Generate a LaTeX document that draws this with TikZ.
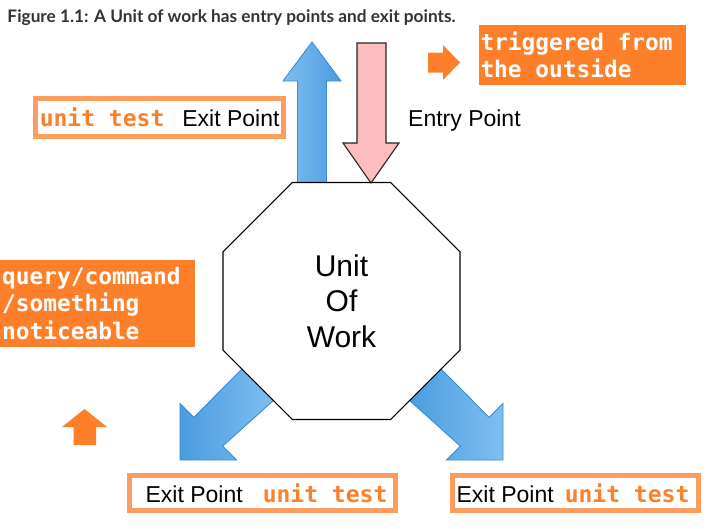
\documentclass[tikz,border=0pt]{standalone}
\usepackage{fontspec}
\setmainfont{Liberation Sans}
\newfontfamily\titlefont{Lato}
\newfontfamily\codefont{DejaVu Sans Mono}[WordSpace={1,0,0}]
\usetikzlibrary{shapes.geometric}

\definecolor{hiorange}{HTML}{FD7F29}
\definecolor{hiframe}{HTML}{FD9D5E}
\definecolor{exitline}{HTML}{3A8DD5}
\definecolor{exitlight}{HTML}{80BFF0}
\definecolor{exitdark}{HTML}{4A9BE0}
\definecolor{entrypink}{HTML}{FBBDBD}
\definecolor{captiongray}{HTML}{333333}

\newcommand{\codeword}[1]{{\codefont\bfseries\color{hiorange}#1}}

\begin{document}
\begin{tikzpicture}[
  x=1pt, y=-1pt,
  exitarrow/.style={draw=exitline, line width=0.9pt, line join=miter},
  entryarrow/.style={draw=black!85, fill=entrypink, line width=1.1pt, line join=miter},
  hintarrow/.style={fill=hiorange},
  hintbox/.style={fill=hiorange, text=white, anchor=north west, align=left,
                  inner xsep=2pt, inner ysep=0pt,
                  font=\codefont\bfseries\fontsize{22.8}{27.5}\selectfont},
  labelbox/.style={draw=hiframe, line width=5pt, inner sep=0pt, minimum height=35.6pt,
                   font=\fontsize{23}{27}\selectfont}
]
\fill[white] (0,0) rectangle (710,528);
\useasboundingbox (0,0) rectangle (710,528);

% caption
\node[anchor=base west, inner sep=0pt, text=captiongray,
      font=\titlefont\bfseries\fontsize{17.25}{20}\selectfont] (caption) at (7.3,22.7)
  {Figure 1.1: A Unit of work has entry points and exit points.};

% exit arrows (behind the unit)
\path[exitarrow, left color=exitlight, right color=exitdark]
  (297.5,186) -- (297.5,81) -- (283,81) -- (312,42) -- (341,81) -- (326.5,81) -- (326.5,186) -- cycle;
\path[exitarrow, left color=exitdark, right color=exitlight]
  (275,399) -- (222.7,446.1) -- (236.6,460) -- (180,460) -- (180,403.4) -- (193.9,417.3) -- (246,365) -- cycle;
\path[exitarrow, left color=exitdark, right color=exitlight]
  (437,365) -- (489.1,417.3) -- (503,403.4) -- (503,460) -- (446.4,460) -- (460.3,446.1) -- (408,399) -- cycle;

% the unit of work
\node[regular polygon, regular polygon sides=8, minimum size=256.5pt, inner sep=0pt,
      draw, line width=1.1pt, fill=white, align=center,
      font=\fontsize{30}{35.3}\selectfont] (unit) at (341.5,301) {Unit\\Of\\Work};

% entry arrow
\path[entryarrow]
  (357,43) -- (386,43) -- (386,143) -- (399,143) -- (371,183) -- (343,143) -- (357,143) -- cycle;
\node[anchor=base west, inner sep=0pt, font=\fontsize{23}{27}\selectfont] (entry) at (408,126.7) {Entry Point};

% hints
\node[hintbox, text width=203.7pt, minimum height=59.3pt] (outside) at (478.3,25)
  {\spaceskip=0pt triggered from\\the outside};
\path[hintarrow] (428,52.5) -- (443,52.5) -- (443,45) -- (460,62.5) -- (443,80) -- (443,72.5) -- (428,72.5) -- cycle;

\node[hintbox, text width=191pt, minimum height=87.4pt] (noticeable) at (0,259.3)
  {query/command\\/something\\noticeable};
\path[hintarrow] (73.5,445) -- (73.5,427) -- (62,427) -- (84.5,409) -- (107,427) -- (96,427) -- (96,445) -- cycle;

% exit point labels
\node[labelbox, minimum width=247.7pt, minimum height=38.3pt] (exittop) at (159.65,117.65)
  {\codeword{unit test}\hspace{11.6pt} Exit Point};
\node[labelbox, minimum width=265.4pt] (exitleft) at (262.5,493)
  {\hspace*{8pt}Exit Point\hspace{13.6pt} \codeword{unit test}};
\node[labelbox, minimum width=246pt] (exitright) at (575.5,493)
  {Exit Point\hspace{4.6pt} \codeword{unit test}\hspace*{5pt}};
\end{tikzpicture}
\end{document}
